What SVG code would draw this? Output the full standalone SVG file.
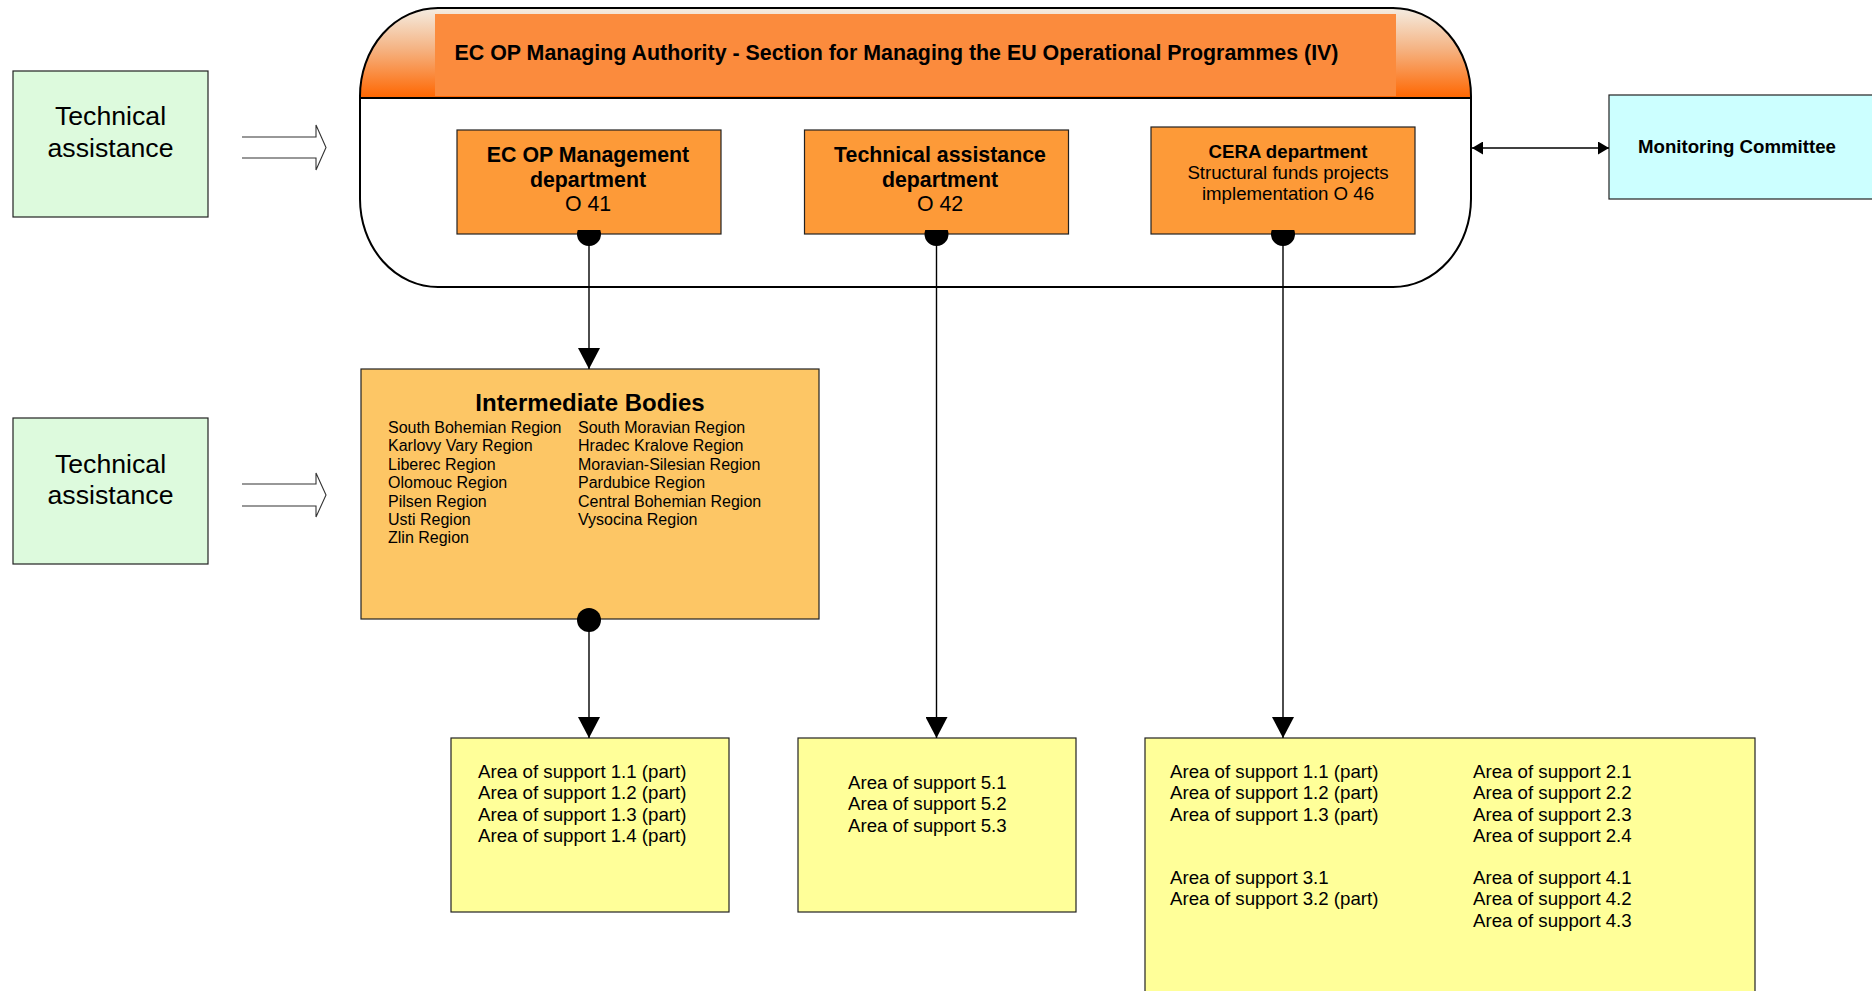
<svg xmlns="http://www.w3.org/2000/svg" width="1872" height="991" viewBox="0 0 1872 991">
<style>
text{font-family:"Liberation Sans",Arial,sans-serif;fill:#000}
.b{font-weight:bold}
.box{stroke:#222;stroke-width:1.2}
.dept{fill:#FD9A38}
.area{fill:#FFFF99}
.ta{fill:#DDFADD}
.ln{stroke:#000;stroke-width:1.4;fill:none}
.hollow{fill:#fff;stroke:#333;stroke-width:1.1}
.t27{font-size:26.67px}
.t21{font-size:21.33px}
.t19{font-size:18.67px}
.t16{font-size:16px}
</style>
<defs>
<linearGradient id="hg" x1="0" y1="0" x2="0" y2="1">
<stop offset="0" stop-color="#F4EDE2"/>
<stop offset="0.45" stop-color="#F5B484"/>
<stop offset="1" stop-color="#FF6600"/>
</linearGradient>
<clipPath id="cc"><rect x="360" y="8" width="1111" height="279" rx="78" ry="88"/></clipPath>
<marker id="ah" viewBox="0 0 21 22" refX="21" refY="11" markerWidth="21" markerHeight="22" markerUnits="userSpaceOnUse" orient="auto"><path d="M0,0 L21,11 L0,22 z" fill="#000"/></marker>
<marker id="sa" viewBox="0 0 11 13" refX="11" refY="6.5" markerWidth="11" markerHeight="13" markerUnits="userSpaceOnUse" orient="auto-start-reverse"><path d="M0,0 L11,6.5 L0,13 z" fill="#000"/></marker>
</defs>

<g id="ta1">
<rect class="box ta" x="13" y="71" width="195" height="146"/>
<text class="t27" x="110.5" y="125" text-anchor="middle">Technical</text>
<text class="t27" x="110.5" y="157" text-anchor="middle">assistance</text>
<path class="hollow" d="M242,137 H316 V125 L326,147.5 L316,170 V158 H242"/>
</g>

<g id="ta2">
<rect class="box ta" x="13" y="418" width="195" height="146"/>
<text class="t27" x="110.5" y="473" text-anchor="middle">Technical</text>
<text class="t27" x="110.5" y="504" text-anchor="middle">assistance</text>
<path class="hollow" d="M242,484 H316 V473 L326,495 L316,517 V506 H242"/>
</g>

<g id="managing-authority">
<rect x="360" y="8" width="1111" height="279" rx="78" ry="88" fill="#fff"/>
<rect x="360" y="8" width="1111" height="90" fill="url(#hg)" clip-path="url(#cc)"/>
<rect x="435" y="14" width="961" height="82" fill="#FB8B3D"/>
<line x1="360" y1="98" x2="1471" y2="98" stroke="#000" stroke-width="2"/>
<rect x="360" y="8" width="1111" height="279" rx="78" ry="88" fill="none" stroke="#000" stroke-width="2"/>
<text class="t21 b" x="454.5" y="60" textLength="884" lengthAdjust="spacingAndGlyphs">EC OP Managing Authority - Section for Managing the EU Operational Programmes (IV)</text>
</g>

<g id="dept41">
<rect class="box dept" x="457" y="130" width="264" height="104"/>
<text class="t21 b" x="588" y="162" text-anchor="middle">EC OP Management</text>
<text class="t21 b" x="588" y="186.5" text-anchor="middle">department</text>
<text class="t21" x="588" y="211" text-anchor="middle">O 41</text>
</g>

<g id="dept42">
<rect class="box dept" x="804.5" y="130" width="264" height="104"/>
<text class="t21 b" x="940" y="162" text-anchor="middle">Technical assistance</text>
<text class="t21 b" x="940" y="186.5" text-anchor="middle">department</text>
<text class="t21" x="940" y="211" text-anchor="middle">O 42</text>
</g>

<g id="dept46">
<rect class="box dept" x="1151" y="127" width="264" height="107"/>
<text class="t19 b" x="1288" y="157.5" text-anchor="middle">CERA department</text>
<text class="t19" x="1288" y="178.5" text-anchor="middle">Structural funds projects</text>
<text class="t19" x="1288" y="200" text-anchor="middle">implementation O 46</text>
</g>

<g id="monitoring">
<rect class="box" x="1609" y="95" width="280" height="104" fill="#CCFFFF"/>
<text class="t19 b" x="1638" y="153">Monitoring Committee</text>
</g>

<g id="intermediate">
<rect class="box" x="361" y="369" width="458" height="250" fill="#FDC665"/>
<text class="b" font-size="24" x="590" y="411" text-anchor="middle">Intermediate Bodies</text>
<g class="t16">
<text x="388" y="433">South Bohemian Region</text>
<text x="388" y="451.4">Karlovy Vary Region</text>
<text x="388" y="469.8">Liberec Region</text>
<text x="388" y="488.2">Olomouc Region</text>
<text x="388" y="506.6">Pilsen Region</text>
<text x="388" y="525">Usti Region</text>
<text x="388" y="543.4">Zlin Region</text>
<text x="578" y="433">South Moravian Region</text>
<text x="578" y="451.4">Hradec Kralove Region</text>
<text x="578" y="469.8">Moravian-Silesian Region</text>
<text x="578" y="488.2">Pardubice Region</text>
<text x="578" y="506.6">Central Bohemian Region</text>
<text x="578" y="525">Vysocina Region</text>
</g>
</g>

<g id="area1">
<rect class="box area" x="451" y="738" width="278" height="174"/>
<g class="t19">
<text x="478" y="777.5">Area of support 1.1 (part)</text>
<text x="478" y="799">Area of support 1.2 (part)</text>
<text x="478" y="820.5">Area of support 1.3 (part)</text>
<text x="478" y="842">Area of support 1.4 (part)</text>
</g>
</g>

<g id="area2">
<rect class="box area" x="798" y="738" width="278" height="174"/>
<g class="t19">
<text x="848" y="788.5">Area of support 5.1</text>
<text x="848" y="810">Area of support 5.2</text>
<text x="848" y="831.5">Area of support 5.3</text>
</g>
</g>

<g id="area3">
<rect class="box area" x="1145" y="738" width="610" height="270"/>
<g class="t19">
<text x="1170" y="777.5">Area of support 1.1 (part)</text>
<text x="1170" y="799">Area of support 1.2 (part)</text>
<text x="1170" y="820.5">Area of support 1.3 (part)</text>
<text x="1170" y="883.5">Area of support 3.1</text>
<text x="1170" y="905">Area of support 3.2 (part)</text>
<text x="1473" y="777.5">Area of support 2.1</text>
<text x="1473" y="799">Area of support 2.2</text>
<text x="1473" y="820.5">Area of support 2.3</text>
<text x="1473" y="842">Area of support 2.4</text>
<text x="1473" y="883.5">Area of support 4.1</text>
<text x="1473" y="905">Area of support 4.2</text>
<text x="1473" y="926.5">Area of support 4.3</text>
</g>
</g>

<g id="connectors">
<line class="ln" x1="589" y1="240" x2="589" y2="369" marker-end="url(#ah)"/>
<line class="ln" x1="936.5" y1="240" x2="936.5" y2="738" marker-end="url(#ah)"/>
<line class="ln" x1="1283" y1="240" x2="1283" y2="738" marker-end="url(#ah)"/>
<line class="ln" x1="589" y1="625" x2="589" y2="738" marker-end="url(#ah)"/>
<line class="ln" x1="1472" y1="148" x2="1609" y2="148" marker-start="url(#sa)" marker-end="url(#sa)"/>
<path d="M577.7,230 H600.3 A12,12 0 1 1 577.7,230 Z" fill="#000"/>
<path d="M925.2,230 H947.8 A12,12 0 1 1 925.2,230 Z" fill="#000"/>
<path d="M1271.7,230 H1294.3 A12,12 0 1 1 1271.7,230 Z" fill="#000"/>
<circle cx="589" cy="620" r="12" fill="#000"/>
</g>
</svg>
